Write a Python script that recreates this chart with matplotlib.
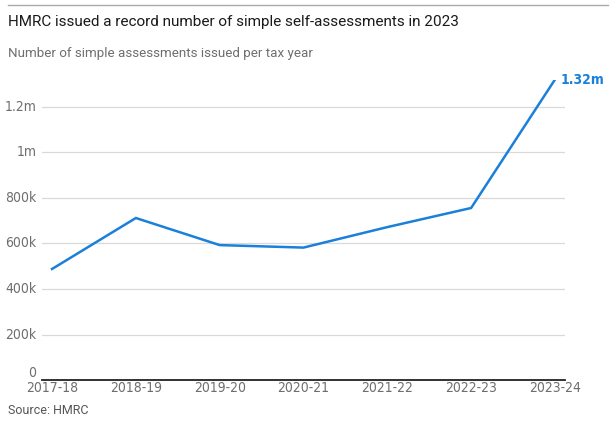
import matplotlib.pyplot as plt
import numpy as np

# Data: simple assessments issued per tax year
years = ['2017-18', '2018-19', '2019-20', '2020-21', '2021-22', '2022-23', '2023-24']
issued = [488000, 712000, 593000, 582000, 672000, 756000, 1320000]

y_ticks = [0, 200000, 400000, 600000, 800000, 1000000, 1200000]
y_labels = ['0', '200k', '400k', '600k', '800k', '1m', '1.2m']

BLUE = '#1a80d9'
GREY = '#6e6e6e'
GRID = '#d9d9d9'
COND = dict(family=['DejaVu Sans'], stretch='condensed', fontsize=10)

fig = plt.figure(figsize=(6.11, 4.28), dpi=100)
ax = fig.add_axes([0.0687, 0.112, 0.856, 0.702])

x = np.arange(len(years))
ax.plot(x, issued, color=BLUE, linewidth=1.8, solid_joinstyle='miter')

ax.set_xlim(-0.12, 6.12)
ax.set_ylim(0, 1320000)
ax.set_yticks(y_ticks)
ax.set_yticklabels(y_labels, color=GREY, **COND)
ax.set_xticks(x)
ax.set_xticklabels(years, color=GREY, **COND)
ax.tick_params(axis='both', length=0)
ax.tick_params(axis='y', pad=4)
ax.tick_params(axis='x', pad=1)
ylabs = ax.get_yticklabels()
for lab in ylabs:
    lab.set_verticalalignment('center')
ylabs[0].set_verticalalignment('bottom')

ax.grid(True, axis='y', color=GRID, linewidth=0.9)
ax.set_axisbelow(True)
for s in ['top', 'right', 'left']:
    ax.spines[s].set_visible(False)
ax.spines['bottom'].set_color('#222222')
ax.spines['bottom'].set_linewidth(1.3)

# Last value label
ax.annotate('1.32m', xy=(x[-1], issued[-1]), xytext=(4, 0), textcoords='offset points',
            ha='left', va='center', color=BLUE, fontweight='bold',
            annotation_clip=False, **COND)

# Header
fig.add_artist(plt.Line2D([8 / 611, 608 / 611], [1 - 5 / 428, 1 - 5 / 428],
                          color='#aaaaaa', linewidth=1))
fig.text(8 / 611, 1 - 22 / 428, 'HMRC issued a record number of simple self-assessments in 2023',
         fontsize=11, color='#1a1a1a', va='center', ha='left', family='Roboto')
fig.text(8 / 611, 1 - 53 / 428, 'Number of simple assessments issued per tax year',
         fontsize=9.6, color=GREY, va='center', ha='left', family='Roboto')
fig.text(8 / 611, 1 - 411 / 428, 'Source: HMRC', fontsize=9, color='#555555',
         va='center', ha='left', family='Roboto')

fig.savefig('out.png', dpi=100, facecolor='white')
